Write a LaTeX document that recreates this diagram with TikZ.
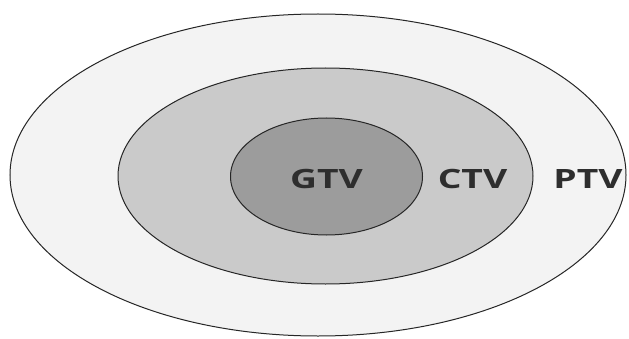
\documentclass[tikz,border=0pt]{standalone}
\usepackage{fontspec}
\setmainfont{Open Sans}
\usetikzlibrary{shapes.geometric}
\definecolor{outerfill}{HTML}{F3F3F3}
\definecolor{midfill}{HTML}{CACACA}
\definecolor{innerfill}{HTML}{9C9C9C}
\definecolor{labelcol}{HTML}{2E2E2E}
\tikzset{
  zone/.style={draw=black!85, line width=1pt},
  lbl/.style={text=labelcol, font=\fontsize{26.6}{30}\selectfont\bfseries, inner sep=0pt, anchor=base}
}
\newcommand{\widetext}[1]{\scalebox{1.4}[1]{#1}}
\begin{document}
\begin{tikzpicture}[x=1pt,y=1pt]
\useasboundingbox[fill=white] (0,0) rectangle (629,338);
\draw[zone, fill=outerfill] (318,163) ellipse [x radius=308, y radius=161];
\draw[zone, fill=midfill] (325.5,162) ellipse [x radius=207.5, y radius=108];
\draw[zone, fill=innerfill] (326.5,161.5) ellipse [x radius=96, y radius=58.5];
\node[lbl] (gtv) at (326.5,150) {\widetext{GTV}};
\node[lbl] (ctv) at (472.5,150) {\widetext{CTV}};
\node[lbl] (ptv) at (588,150) {\widetext{PTV}};
\end{tikzpicture}
\end{document}
